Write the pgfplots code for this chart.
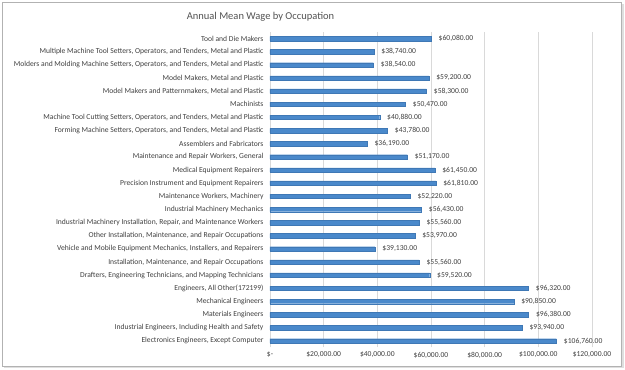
\documentclass[border=0pt]{standalone}
\usepackage{pgfplots}
\pgfplotsset{compat=1.18}
\usepackage{fontspec}
\setmainfont{Carlito}
\definecolor{barblue}{HTML}{4A89CB}
\definecolor{bardark}{HTML}{3F78B5}
\definecolor{txt}{HTML}{404040}
\definecolor{gridc}{HTML}{D9D9D9}
\begin{document}
\begin{tikzpicture}[x=1pt,y=1pt]
\useasboundingbox (0,0) rectangle (625,370);
\fill[gray!25] (4,2) rectangle (624,366);
\filldraw[draw=gray!60, fill=white] (2,4) rectangle (621,368);
\node[text=txt!90, font=\fontsize{10.5}{12}\selectfont] at (260.5,353) {Annual Mean Wage by Occupation};
\begin{axis}[
  at={(270pt,22.5pt)}, anchor=south west,
  scale only axis, width=322pt, height=315.5pt,
  xbar, bar width=4.4pt,
  xmin=0, xmax=120000, ymin=-0.5, ymax=23.5,
  scaled x ticks=false,
  xtick={0,20000,40000,60000,80000,100000,120000},
  xticklabels={\$-,\$20{,}000.00,\$40{,}000.00,\$60{,}000.00,\$80{,}000.00,\$100{,}000.00,\$120{,}000.00},
  ytick={0,...,23},
  yticklabels={
    {Electronics Engineers, Except Computer},
    {Industrial Engineers, Including Health and Safety},
    {Materials Engineers},
    {Mechanical Engineers},
    {Engineers, All Other(172199)},
    {Drafters, Engineering Technicians, and Mapping Technicians},
    {Installation, Maintenance, and Repair Occupations},
    {Vehicle and Mobile Equipment Mechanics, Installers, and Repairers},
    {Other Installation, Maintenance, and Repair Occupations},
    {Industrial Machinery Installation, Repair, and Maintenance Workers},
    {Industrial Machinery Mechanics},
    {Maintenance Workers, Machinery},
    {Precision Instrument and Equipment Repairers},
    {Medical Equipment Repairers},
    {Maintenance and Repair Workers, General},
    {Assemblers and Fabricators},
    {Forming Machine Setters, Operators, and Tenders, Metal and Plastic},
    {Machine Tool Cutting Setters, Operators, and Tenders, Metal and Plastic},
    {Machinists},
    {Model Makers and Patternmakers, Metal and Plastic},
    {Model Makers, Metal and Plastic},
    {Molders and Molding Machine Setters, Operators, and Tenders, Metal and Plastic},
    {Multiple Machine Tool Setters, Operators, and Tenders, Metal and Plastic},
    {Tool and Die Makers}},
  axis line style={draw=none},
  major tick length=0pt,
  xmajorgrids, major grid style={gridc, line width=0.6pt},
  ticklabel style={text=txt, font=\fontsize{7.6}{8.5}\selectfont},
  yticklabel style={xshift=-3pt},
  xticklabel style={yshift=-1pt},
  nodes near coords={\$\pgfmathprintnumber[fixed,fixed zerofill,precision=2,1000 sep={,},assume math mode=true]{\pgfplotspointmeta}},
  point meta=x,
  every node near coord/.append style={text=txt, font=\fontsize{7.6}{8.5}\selectfont, anchor=west, xshift=4pt},
]
\addplot[fill=barblue, draw=bardark, line width=0.3pt] coordinates {
(106760,0) (93940,1) (96380,2) (90850,3) (96320,4) (59520,5)
(55560,6) (39130,7) (53970,8) (55560,9) (56430,10) (52220,11)
(61810,12) (61450,13) (51170,14) (36190,15) (43780,16) (40880,17)
(50470,18) (58300,19) (59200,20) (38540,21) (38740,22) (60080,23)
};
\end{axis}
\end{tikzpicture}
\end{document}
